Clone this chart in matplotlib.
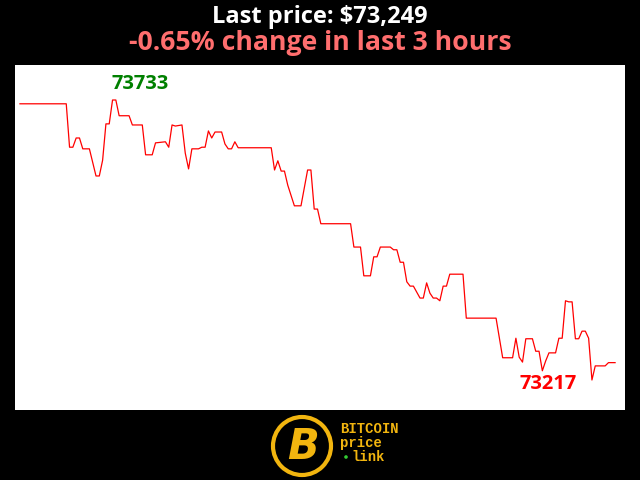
import matplotlib
matplotlib.use('Agg')
import matplotlib.pyplot as plt
from matplotlib.patches import Circle

# minutes since start of the 3 hour window, and the price at each turning point
minutes = [0, 14, 15, 16, 17, 18, 19, 21, 23, 24, 25, 26, 27, 28, 29, 30, 33, 34, 37, 38,
           40, 41, 44, 45, 46, 47, 49, 50, 51, 52, 54, 55, 56, 57, 58, 59, 61, 62, 63, 64,
           65, 66, 76, 77, 78, 79, 80, 81, 83, 85, 87, 88, 89, 90, 91, 100, 101, 103, 104, 106,
           107, 108, 109, 112, 113, 114, 115, 116, 117, 118, 119, 120, 121, 122, 123, 124, 125, 126, 127, 128,
           129, 130, 134, 135, 144, 146, 149, 150, 151, 152, 153, 155, 156, 157, 158, 159, 160, 162, 163, 164,
           165, 166, 167, 168, 169, 170, 171, 172, 173, 174, 177, 178, 180]
prices = [73726, 73726, 73646, 73646, 73663, 73663, 73643, 73643, 73593, 73593, 73622, 73689, 73689, 73733, 73733, 73704, 73704, 73687, 73687, 73632,
          73632, 73654, 73656, 73646, 73687, 73685, 73687, 73635, 73606, 73643, 73643, 73646, 73646, 73676, 73663, 73674, 73674, 73652, 73643, 73643,
          73656, 73645, 73645, 73604, 73621, 73602, 73602, 73576, 73538, 73538, 73604, 73604, 73532, 73532, 73505, 73505, 73462, 73462, 73409, 73409,
          73444, 73444, 73462, 73462, 73457, 73457, 73434, 73434, 73398, 73390, 73390, 73379, 73368, 73368, 73396, 73377, 73368, 73368, 73363, 73390,
          73390, 73412, 73412, 73331, 73331, 73258, 73258, 73294, 73259, 73250, 73293, 73293, 73270, 73270, 73234, 73252, 73267, 73267, 73294, 73294,
          73363, 73361, 73361, 73293, 73293, 73307, 73307, 73294, 73217, 73243, 73243, 73249, 73249]

last_price = 73249
change_pct = -0.65
hours = 3

fig = plt.figure(figsize=(6.4, 4.8), dpi=100, facecolor='black')
ax = fig.add_axes([15 / 640, 70 / 480, 610 / 640, 345 / 480])
ax.set_facecolor('white')
ax.plot(minutes, prices, color='red', linewidth=0.9)

hi = max(prices)
lo = min(prices)
per_px = (hi - lo) / 280
ax.set_ylim(lo - 30 * per_px, hi + 35 * per_px)
ax.set_xlim(-1.5, 183)
ax.set_xticks([])
ax.set_yticks([])
for s in ax.spines.values():
    s.set_visible(False)

# high / low labels
i_hi = prices.index(hi)
i_lo = prices.index(lo)
ax.annotate(str(hi), (minutes[i_hi], hi), xytext=(28, 16), textcoords='offset pixels',
            ha='center', va='center', color='green', fontsize=14.5, fontweight='bold', family='Open Sans')
ax.annotate(str(lo), (minutes[i_lo], lo), xytext=(-44, -4), textcoords='offset pixels',
            ha='center', va='center', color='red', fontsize=14.5, fontweight='bold', family='Open Sans')

# titles
fig.text(0.5, 1 - 17 / 480, 'Last price: ${:,}'.format(last_price), ha='center', va='center',
         color='white', fontsize=17, fontweight='bold', family='Open Sans')
fig.text(0.5, 1 - 43 / 480, '{:.2f}% change in last {} hours'.format(change_pct, hours), ha='center', va='center',
         color='#ff6e6e', fontsize=19.2, fontweight='bold', family='Open Sans')

# logo
lax = fig.add_axes([0, 0, 1, 70 / 480])
lax.set_xlim(0, 640)
lax.set_ylim(70, 0)
lax.axis('off')
gold = '#f2b50f'
lax.add_patch(Circle((302, 36), 29, facecolor='black', edgecolor=gold, linewidth=3))
lax.text(303, 37, 'B', ha='center', va='center', color=gold, fontsize=30,
         fontweight='bold', style='italic', family='DejaVu Sans')
mono = 'Liberation Mono'
lax.text(340, 19, 'BITCOIN', ha='left', va='center', color=gold, fontsize=10, fontweight='bold', family=mono)
lax.text(340, 33, 'price', ha='left', va='center', color=gold, fontsize=10, fontweight='bold', family=mono)
lax.text(351, 47, 'link', ha='left', va='center', color=gold, fontsize=10, fontweight='bold', family=mono)
lax.add_patch(Circle((346, 47), 1.8, facecolor='#3c3', edgecolor='none'))

fig.savefig('out.png', dpi=100, facecolor='black')
